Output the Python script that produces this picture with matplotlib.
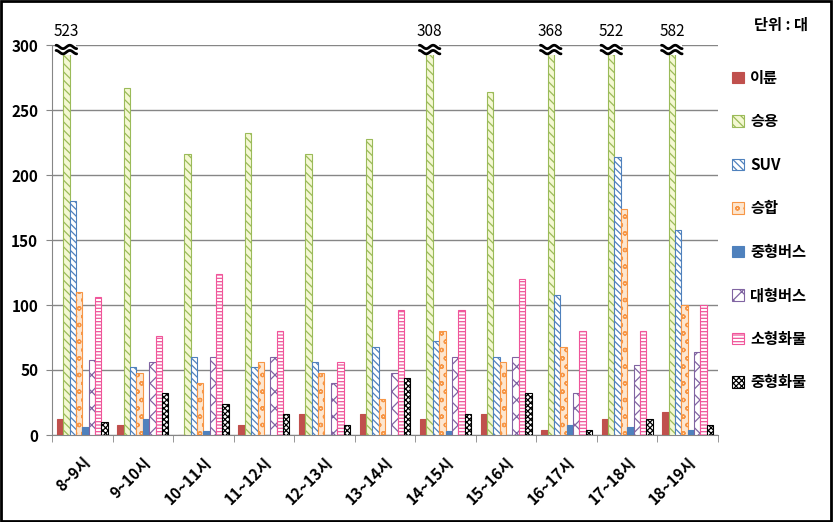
import matplotlib
matplotlib.use("Agg")
import matplotlib.pyplot as plt
import numpy as np
from matplotlib.patches import Rectangle

plt.rcParams['font.family'] = ['Noto Sans CJK KR', 'DejaVu Sans']
plt.rcParams['hatch.linewidth'] = 0.9

categories = ['8~9시', '9~10시', '10~11시', '11~12시', '12~13시', '13~14시',
              '14~15시', '15~16시', '16~17시', '17~18시', '18~19시']
series_names = ['이륜', '승용', 'SUV', '승합', '중형버스', '대형버스', '소형화물', '중형화물']

v_bike = [12, 8, 0, 8, 16, 16, 12, 16, 4, 12, 18]
v_car = [523, 267, 216, 232, 216, 228, 308, 264, 368, 522, 582]
v_suv = [180, 52, 60, 52, 56, 68, 72, 60, 108, 214, 158]
v_van = [110, 48, 40, 56, 48, 28, 80, 56, 68, 174, 100]
v_midbus = [6, 12, 3, 0, 0, 0, 3, 0, 8, 6, 4]
v_bigbus = [58, 56, 60, 60, 40, 48, 60, 60, 32, 54, 64]
v_smtruck = [106, 76, 124, 80, 56, 96, 96, 120, 80, 80, 100]
v_midtruck = [10, 32, 24, 16, 8, 44, 16, 32, 4, 12, 8]

series_values = [v_bike, v_car, v_suv, v_van, v_midbus, v_bigbus, v_smtruck, v_midtruck]

styles = [
    dict(facecolor='#C0504D', edgecolor='#C0504D', hatch=None),
    dict(facecolor='#F4F8D2', edgecolor='#9BBB59', hatch='\\\\\\\\'),
    dict(facecolor='white', edgecolor='#4F81BD', hatch='\\\\\\\\\\'),
    dict(facecolor='#FDE6CF', edgecolor='#F79646', hatch='oo'),
    dict(facecolor='#4F81BD', edgecolor='#4F81BD', hatch=None),
    dict(facecolor='white', edgecolor='#8064A2', hatch='xx'),
    dict(facecolor='white', edgecolor='#F0559A', hatch='-----'),
    dict(facecolor='white', edgecolor='black', hatch='xxxxxx'),
]

YMAX = 300

fig = plt.figure(figsize=(8.33, 5.22), dpi=100)
ax = fig.add_axes([52/833, 1-435/522, (718-52)/833, (435-45)/522])

x = np.arange(len(categories))
w = 0.105
handles = []
t = np.linspace(-1, 1, 60)
for i, (vals, st) in enumerate(zip(series_values, styles)):
    vals = np.array(vals, dtype=float)
    h = np.minimum(vals, YMAX)
    bars = ax.bar(x + (i - 3.5) * w, h, width=w, linewidth=0.8, zorder=3,
                  label=series_names[i], **st)
    handles.append(bars)
    if i == 1:
        for xi, v in zip(x + (i - 3.5) * w, vals):
            if v > YMAX:
                # break marker: two wavy lines
                ax.fill_between([xi - 0.16, xi + 0.16], 292.5, 301, color='white',
                                zorder=4, clip_on=False, linewidth=0)
                for yc in (298.5, 294.5):
                    ax.plot(xi + 0.17 * t, yc + 1.3 * np.sin(np.pi * 1.5 * t),
                            color='black', linewidth=2.0, zorder=5, clip_on=False,
                            solid_capstyle='round')
                ax.text(xi, 303.5, f'{int(v)}', ha='center', va='bottom', fontsize=11,
                        color='black', clip_on=False)

ax.set_xlim(-0.5, len(categories) - 0.5)
ax.set_ylim(0, YMAX)
ax.set_yticks(np.arange(0, 301, 50))
ax.tick_params(axis='y', labelsize=11, length=4, color='#868686', pad=6)
for lab in ax.get_yticklabels():
    lab.set_fontweight('bold')
ax.yaxis.grid(True, color='#868686', linewidth=1)
ax.set_axisbelow(True)

ax.set_xticks(x)
ax.set_xticklabels(categories, rotation=45, ha='right', rotation_mode='anchor',
                   fontsize=11, fontweight='bold')
ax.tick_params(axis='x', which='major', length=0, pad=14)
ax.set_xticks(np.arange(-0.5, len(categories) + 0.5, 1), minor=True)
ax.tick_params(axis='x', which='minor', length=5, color='#868686')

for s in ['top', 'right']:
    ax.spines[s].set_visible(False)
for s in ['left', 'bottom']:
    ax.spines[s].set_color('#868686')

fig.text(0.938, 0.952, '단위 : 대', ha='center', va='center', fontsize=11, fontweight='bold')

leg = fig.legend(handles=handles, loc='upper left', bbox_to_anchor=(0.872, 0.878),
                 frameon=False, fontsize=11, handlelength=0.75, handleheight=0.75,
                 handletextpad=0.4, labelspacing=1.8, borderaxespad=0)
for tx in leg.get_texts():
    tx.set_fontweight('bold')

fig.add_artist(Rectangle((0.001, 0.002), 0.997, 0.996, transform=fig.transFigure,
                         fill=False, edgecolor='black', linewidth=2))

fig.savefig('out.png', dpi=100)
